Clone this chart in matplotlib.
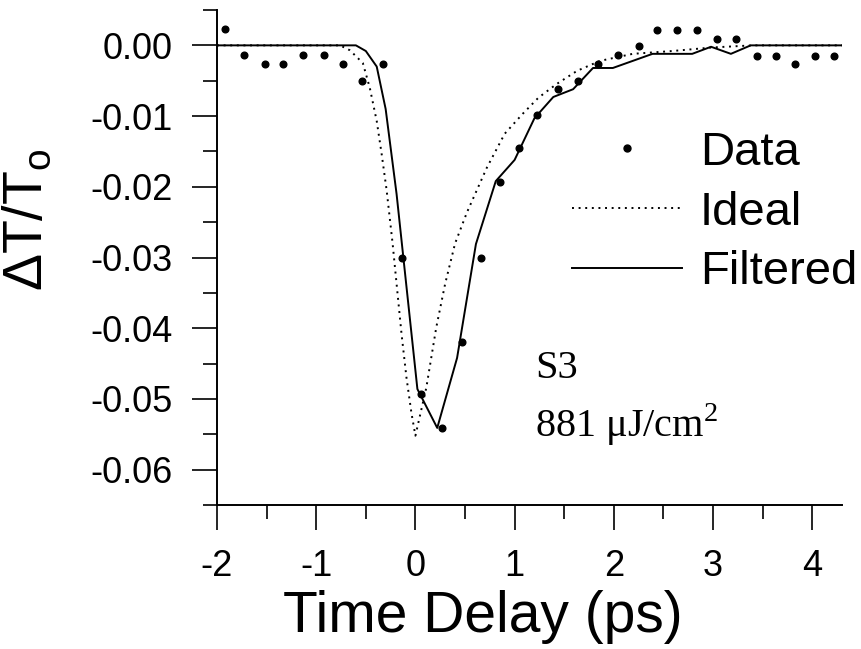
import matplotlib
matplotlib.use("Agg")
import matplotlib.pyplot as plt
from matplotlib.ticker import MultipleLocator, FixedLocator
from matplotlib.lines import Line2D

plt.rcParams['font.family'] = ['Liberation Sans', 'DejaVu Sans']
plt.rcParams['axes.unicode_minus'] = False

# Data points
data_x = [-1.92, -1.73, -1.52, -1.33, -1.13, -0.92, -0.73, -0.54, -0.33, -0.14,
          0.06, 0.27, 0.47, 0.66, 0.85, 1.04, 1.23, 1.44, 1.64, 1.84,
          2.04, 2.25, 2.44, 2.64, 2.84, 3.04, 3.23, 3.44, 3.63, 3.83,
          4.03, 4.22]
data_y = [0.0023, -0.0013, -0.0026, -0.0026, -0.0013, -0.0013, -0.0026, -0.0050, -0.0026, -0.0300,
          -0.0493, -0.0541, -0.0420, -0.0300, -0.0193, -0.0145, -0.0098, -0.0062, -0.0050, -0.0026,
          -0.0013, -0.0001, 0.0022, 0.0022, 0.0022, 0.0009, 0.0009, -0.0015, -0.0015, -0.0026,
          -0.0015, -0.0015]

# Ideal curve
ideal_x = [-2.0, -0.76, -0.66, -0.53, -0.46, -0.39, -0.34, -0.29, -0.23, -0.19, -0.14,
           -0.09, -0.04, 0.0, 0.11, 0.21, 0.30, 0.40, 0.52, 0.72, 0.90, 1.08,
           1.24, 1.42, 1.63, 1.86, 2.19, 2.59, 2.99, 3.4, 4.3]
ideal_y = [0.0, 0.0, -0.0007, -0.0025, -0.0060, -0.0107, -0.0154, -0.0205, -0.0280, -0.0337, -0.0408,
           -0.0470, -0.0520, -0.0552, -0.0484, -0.0399, -0.0337, -0.0280, -0.0236, -0.0173, -0.0125, -0.0097,
           -0.0074, -0.0055, -0.0036, -0.0022, -0.0012, -0.0008, -0.0003, 0.0, 0.0]

# Filtered curve
filt_x = [-2.0, -0.60, -0.50, -0.39, -0.30, -0.19, 0.02, 0.22, 0.42, 0.61, 0.81,
          1.00, 1.20, 1.39, 1.59, 1.79, 1.99, 2.39, 2.79, 2.98, 3.18, 3.38, 4.3]
filt_y = [0.0, 0.0, -0.0008, -0.0030, -0.0090, -0.0210, -0.0486, -0.0541, -0.0442, -0.0281, -0.0192,
          -0.0162, -0.0103, -0.0073, -0.0062, -0.0032, -0.0032, -0.0012, -0.0012, -0.0002, -0.0012, 0.0, 0.0]

x_major = [-2, -1, 0, 1, 2, 3, 4]
y_major = [0.00, -0.01, -0.02, -0.03, -0.04, -0.05, -0.06]
y_labels = ['0.00', '-0.01', '-0.02', '-0.03', '-0.04', '-0.05', '-0.06']

fig = plt.figure(figsize=(8.61, 6.49), dpi=100)
ax = fig.add_axes([217/861, 1-505/649, (842-217)/861, (505-10)/649])

ax.plot(data_x, data_y, 'o', color='black', markersize=4.8, label='Data', clip_on=False)
ax.plot(ideal_x, ideal_y, color='black', linestyle=(0, (1, 2.4)), linewidth=1.4, label='Ideal')
ax.plot(filt_x, filt_y, color='black', linestyle='-', linewidth=1.4, label='Filtered')

ax.set_xlim(-2, 4.3)
ax.set_ylim(-0.065, 0.005)

for s in ['top', 'right']:
    ax.spines[s].set_visible(False)
for s in ['left', 'bottom']:
    ax.spines[s].set_linewidth(1.4)

ax.xaxis.set_major_locator(FixedLocator(x_major))
ax.xaxis.set_minor_locator(MultipleLocator(0.5))
ax.set_yticks(y_major)
ax.set_yticklabels(y_labels)
ax.yaxis.set_minor_locator(MultipleLocator(0.005))
ax.tick_params(which='major', direction='out', length=18, width=1.2, labelsize=26)
ax.tick_params(which='minor', direction='out', length=10, width=1.2)
ax.tick_params(axis='y', which='major', pad=14)
ax.tick_params(axis='x', which='major', pad=14)

fig.text(483/861, 1-632/649, 'Time Delay (ps)', fontsize=41, ha='center', va='baseline')
fig.text(28/861, 1-220/649, 'ΔT/T$_\\mathregular{o}$', fontsize=40, rotation=90,
         ha='center', va='center')

handles = [Line2D([], [], marker='o', color='black', linestyle='none', markersize=5),
           Line2D([], [], color='black', linestyle=(0, (1, 2.4)), linewidth=1.4),
           Line2D([], [], color='black', linestyle='-', linewidth=1.4)]
leg = fig.legend(handles, ['Data', 'Ideal', 'Filtered'], loc='upper left',
                 bbox_to_anchor=(572/861, 1-131/649), frameon=False, fontsize=34,
                 handlelength=2.33, handletextpad=0.38, labelspacing=0.33,
                 borderpad=0, borderaxespad=0)

fig.text(535/861, 1-378/649, 'S3', fontsize=29, family=['Liberation Serif'],
         ha='left', va='baseline')
fig.text(535/861, 1-437/649, '881 μJ/cm$^\\mathregular{2}$', fontsize=29,
         family=['Liberation Serif'], ha='left', va='baseline')

fig.savefig('out.png', dpi=100)
